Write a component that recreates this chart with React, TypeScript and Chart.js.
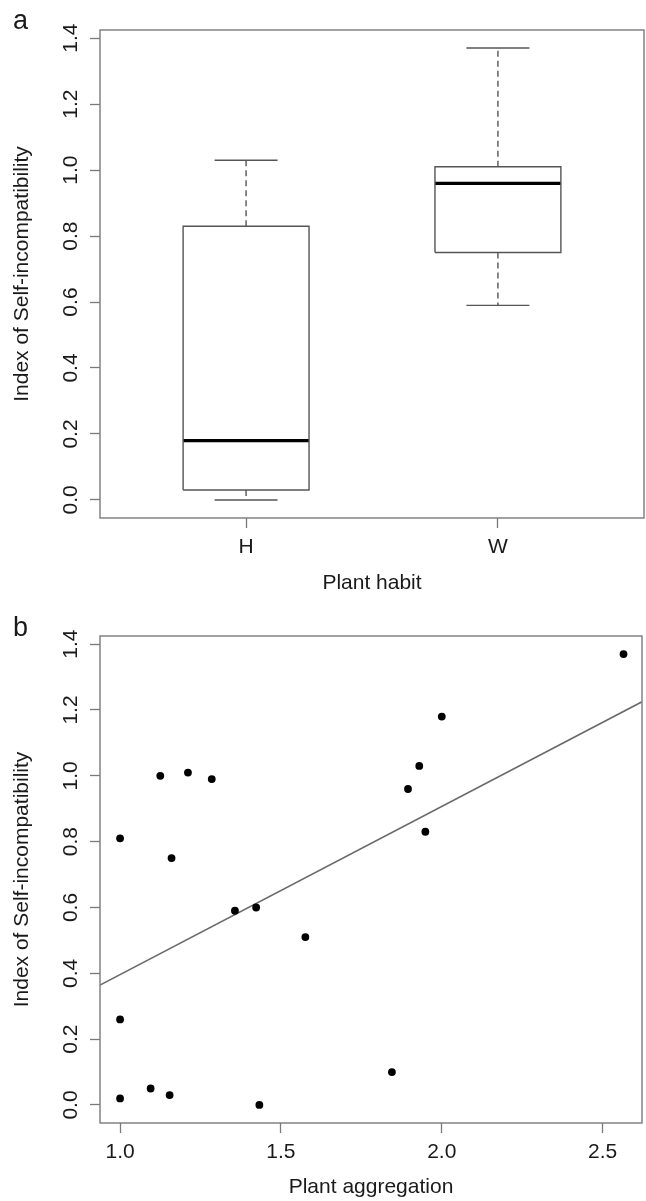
import React, { useEffect, useRef } from "react";
import { Chart, registerables } from "chart.js";

Chart.register(...registerables);

// ---------- Data ----------
const habitCategories = ["H", "W"];
const boxMin = [0.0, 0.59];
const boxQ1 = [0.03, 0.75];
const boxMedian = [0.18, 0.96];
const boxQ3 = [0.83, 1.01];
const boxMax = [1.03, 1.37];

const aggregation = [1.0, 1.0, 1.0, 1.095, 1.125, 1.154, 1.16, 1.211, 1.285, 1.357, 1.423, 1.433, 1.576, 1.845, 1.895, 1.93, 1.949, 2.0, 2.565];
const selfIncompat = [0.81, 0.26, 0.02, 0.05, 1.0, 0.03, 0.75, 1.01, 0.99, 0.59, 0.6, 0.0, 0.51, 0.1, 0.96, 1.03, 0.83, 1.18, 1.37];
const fitIntercept = -0.115;
const fitSlope = 0.511;

const yTickValues = [0, 0.2, 0.4, 0.6, 0.8, 1.0, 1.2, 1.4];
const aggTickValues = [1.0, 1.5, 2.0, 2.5];

// ---------- Styles ----------
const FONT = "'Liberation Sans', Arial, Helvetica, sans-serif";
const TEXT = "#1a1a1a";
const FRAME = "#7a7a7a";
const BOXLINE = "#555555";
const Y_MIN = -0.0548;
const Y_MAX = 1.4248;

const framePlugin = (letter: string, letterY: number) => ({
  id: "frame_" + letter,
  afterDraw(chart: any) {
    const { ctx, chartArea } = chart;
    ctx.save();
    ctx.strokeStyle = FRAME;
    ctx.lineWidth = 1.4;
    ctx.strokeRect(chartArea.left, chartArea.top, chartArea.right - chartArea.left, chartArea.bottom - chartArea.top);
    ctx.fillStyle = TEXT;
    ctx.font = `27px ${FONT}`;
    ctx.textBaseline = "alphabetic";
    ctx.textAlign = "left";
    ctx.fillText(letter, 13, letterY);
    ctx.restore();
  },
});

const yAxis = (width: number) => ({
  type: "linear",
  min: Y_MIN,
  max: Y_MAX,
  afterBuildTicks: (s: any) => {
    s.ticks = yTickValues.map((v) => ({ value: v }));
  },
  afterFit: (s: any) => {
    s.width = width;
  },
  ticks: {
    minRotation: 90,
    maxRotation: 90,
    crossAlign: "center",
    padding: 4,
    color: TEXT,
    font: { family: FONT, size: 21 },
    callback: (v: any) => Number(v).toFixed(1),
  },
  grid: { drawOnChartArea: false, drawTicks: true, tickLength: 10, tickColor: FRAME, tickWidth: 1.3 },
  border: { display: false },
  title: {
    display: true,
    text: "Index of Self-incompatibility",
    color: TEXT,
    font: { family: FONT, size: 21 },
    padding: { top: 10, bottom: 0 },
  },
});

function BoxChart() {
  const ref = useRef<HTMLCanvasElement>(null);
  useEffect(() => {
    const datasets: any[] = [];
    const BOX_HALF = 0.25;
    const CAP_HALF = 0.125;
    habitCategories.forEach((_, i) => {
      const x = i + 1;
      const base = { type: "scatter", showLine: true, pointRadius: 0, fill: false, tension: 0 };
      datasets.push({
        ...base,
        data: [
          { x: x - BOX_HALF, y: boxQ1[i] },
          { x: x - BOX_HALF, y: boxQ3[i] },
          { x: x + BOX_HALF, y: boxQ3[i] },
          { x: x + BOX_HALF, y: boxQ1[i] },
          { x: x - BOX_HALF, y: boxQ1[i] },
        ],
        borderColor: BOXLINE,
        borderWidth: 1.4,
      });
      datasets.push({
        ...base,
        data: [
          { x: x - BOX_HALF, y: boxMedian[i] },
          { x: x + BOX_HALF, y: boxMedian[i] },
        ],
        borderColor: "#000000",
        borderWidth: 3.2,
      });
      datasets.push({
        ...base,
        data: [
          { x, y: boxQ3[i] },
          { x, y: boxMax[i] },
        ],
        borderColor: BOXLINE,
        borderWidth: 1.4,
        borderDash: [6, 4],
      });
      datasets.push({
        ...base,
        data: [
          { x, y: boxQ1[i] },
          { x, y: boxMin[i] },
        ],
        borderColor: BOXLINE,
        borderWidth: 1.4,
        borderDash: [6, 4],
      });
      datasets.push({
        ...base,
        data: [
          { x: x - CAP_HALF, y: boxMax[i] },
          { x: x + CAP_HALF, y: boxMax[i] },
        ],
        borderColor: BOXLINE,
        borderWidth: 1.4,
      });
      datasets.push({
        ...base,
        data: [
          { x: x - CAP_HALF, y: boxMin[i] },
          { x: x + CAP_HALF, y: boxMin[i] },
        ],
        borderColor: BOXLINE,
        borderWidth: 1.4,
      });
    });

    const chart = new Chart(ref.current as HTMLCanvasElement, {
      type: "scatter",
      data: { datasets },
      options: {
        animation: false,
        responsive: false,
        events: [],
        layout: { padding: { top: 30, right: 2, left: 0, bottom: 0 } },
        plugins: { legend: { display: false }, tooltip: { enabled: false } },
        scales: {
          x: {
            type: "linear",
            min: 0.42,
            max: 2.58,
            afterBuildTicks: (s: any) => {
              s.ticks = habitCategories.map((_, i) => ({ value: i + 1 }));
            },
            afterFit: (s: any) => {
              s.height = 82;
            },
            ticks: {
              padding: 7,
              maxRotation: 0,
              autoSkip: false,
              color: TEXT,
              font: { family: FONT, size: 21 },
              callback: (v: any) => habitCategories[Math.round(Number(v)) - 1] ?? "",
            },
            grid: { drawOnChartArea: false, drawTicks: true, tickLength: 10, tickColor: FRAME, tickWidth: 1.3 },
            border: { display: false },
            title: {
              display: true,
              text: "Plant habit",
              color: TEXT,
              font: { family: FONT, size: 21 },
              padding: { top: 0, bottom: 4 },
            },
          },
          y: yAxis(100) as any,
        },
      } as any,
      plugins: [framePlugin("a", 29)],
    });
    return () => chart.destroy();
  }, []);
  return <canvas ref={ref} width={646} height={600} style={{ position: "absolute", left: 0, top: 0, width: 646, height: 600 }} />;
}

function ScatterChart() {
  const ref = useRef<HTMLCanvasElement>(null);
  useEffect(() => {
    const X_MIN = 0.9376;
    const X_MAX = 2.6224;
    const points = aggregation.map((x, i) => ({ x, y: selfIncompat[i] }));
    const fitLine = [X_MIN, X_MAX].map((x) => ({ x, y: fitIntercept + fitSlope * x }));
    const chart = new Chart(ref.current as HTMLCanvasElement, {
      type: "scatter",
      data: {
        datasets: [
          {
            data: points,
            pointRadius: 3.9,
            pointBackgroundColor: "#000000",
            pointBorderWidth: 0,
            showLine: false,
          },
          {
            data: fitLine,
            showLine: true,
            pointRadius: 0,
            borderColor: "#6a6a6a",
            borderWidth: 1.6,
            fill: false,
          },
        ],
      },
      options: {
        animation: false,
        responsive: false,
        events: [],
        layout: { padding: { top: 36, right: 1, left: 0, bottom: 0 } },
        plugins: { legend: { display: false }, tooltip: { enabled: false } },
        scales: {
          x: {
            type: "linear",
            min: X_MIN,
            max: X_MAX,
            afterBuildTicks: (s: any) => {
              s.ticks = aggTickValues.map((v) => ({ value: v }));
            },
            afterFit: (s: any) => {
              s.height = 78;
            },
            ticks: {
              padding: 7,
              maxRotation: 0,
              autoSkip: false,
              color: TEXT,
              font: { family: FONT, size: 21 },
              callback: (v: any) => Number(v).toFixed(1),
            },
            grid: { drawOnChartArea: false, drawTicks: true, tickLength: 10, tickColor: FRAME, tickWidth: 1.3 },
            border: { display: false },
            title: {
              display: true,
              text: "Plant aggregation",
              color: TEXT,
              font: { family: FONT, size: 21 },
              padding: { top: 0, bottom: 1 },
            },
          },
          y: yAxis(100) as any,
        },
      } as any,
      plugins: [framePlugin("b", 36)],
    });
    return () => chart.destroy();
  }, []);
  return <canvas ref={ref} width={646} height={601} style={{ position: "absolute", left: 0, top: 600, width: 646, height: 601 }} />;
}

export default function App() {
  return (
    <div style={{ position: "absolute", left: 0, top: 0, width: 646, height: 1201, background: "#ffffff" }}>
      <BoxChart />
      <ScatterChart />
    </div>
  );
}
